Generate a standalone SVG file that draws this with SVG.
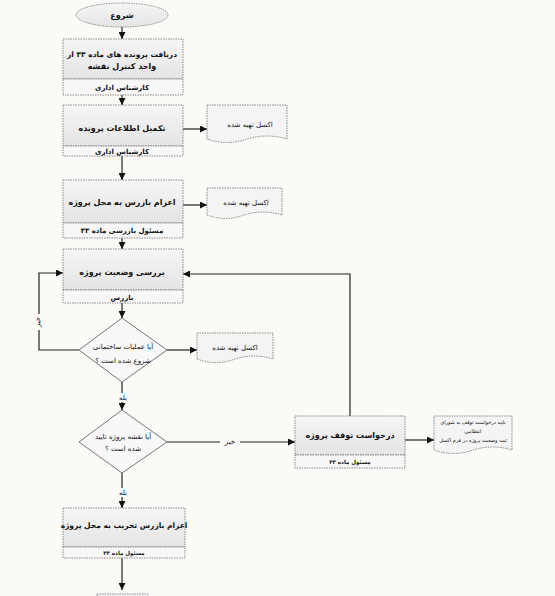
<svg xmlns="http://www.w3.org/2000/svg" width="555" height="596" viewBox="0 0 555 596">
<defs>
<marker id="ah" viewBox="0 0 10 10" refX="10" refY="5" markerWidth="7" markerHeight="7" orient="auto" markerUnits="userSpaceOnUse">
<path d="M0,0 L10,5 L0,10 z" fill="#111"/>
</marker>
<linearGradient id="g" x1="0" y1="0" x2="0" y2="1">
<stop offset="0" stop-color="#f6f6f6"/>
<stop offset="1" stop-color="#e4e4e4"/>
</linearGradient>
</defs>
<style>
.bg{fill:#fbfaf7}
.box{fill:url(#g);stroke:#8a8a8a;stroke-width:1;stroke-dasharray:1.5 1}
.sub{fill:#f7f7f7;stroke:#8a8a8a;stroke-width:1;stroke-dasharray:1.5 1}
.doc{fill:#f4f4f4;stroke:#8a8a8a;stroke-width:1;stroke-dasharray:1.5 1}
.dia{fill:#f8f8f8;stroke:#777;stroke-width:1}
.c{fill:none;stroke:#222;stroke-width:1.2}
text{font-family:"DejaVu Sans","Noto Sans",sans-serif;fill:#111;text-anchor:middle}
.t{font-size:8px;font-weight:bold}
.s{font-size:7px;font-weight:bold}
.q{font-size:7px}
.d{font-size:7px}
.n{font-size:5px}
.m{font-size:5.5px;font-weight:bold}
.l{font-size:7px}
</style>
<rect class="bg" x="0" y="0" width="555" height="596"/>

<g id="connectors">
<path class="c" d="M122,27 V39" marker-end="url(#ah)"/>
<path class="c" d="M122,95 V105" marker-end="url(#ah)"/>
<path class="c" d="M183,129 H207" marker-end="url(#ah)"/>
<path class="c" d="M122,156 V180" marker-end="url(#ah)"/>
<path class="c" d="M183,205 H207" marker-end="url(#ah)"/>
<path class="c" d="M122,238 V249" marker-end="url(#ah)"/>
<path class="c" d="M122,303 V318" marker-end="url(#ah)"/>
<path class="c" d="M79,350 H39 V273 H63" marker-end="url(#ah)"/>
<path class="c" d="M167,350 H197" marker-end="url(#ah)"/>
<path class="c" d="M122,382 V410" marker-end="url(#ah)"/>
<path class="c" d="M167,442 H295" marker-end="url(#ah)"/>
<path class="c" d="M350,416 V274 H183" marker-end="url(#ah)"/>
<path class="c" d="M405,440 H434" marker-end="url(#ah)"/>
<path class="c" d="M122,473 V508" marker-end="url(#ah)"/>
<path class="c" d="M122,558 V590" marker-end="url(#ah)"/>
<rect x="32" y="314" width="12" height="16" fill="#fbfaf7"/>
<text class="l" transform="translate(40,322) rotate(-90)">خیر</text>
<rect x="115" y="393" width="16" height="9" fill="#fbfaf7"/>
<text class="l" x="123" y="400">بله</text>
<rect x="220" y="437" width="20" height="9" fill="#fbfaf7"/>
<text class="l" x="230" y="444">خیر</text>
<rect x="115" y="488" width="16" height="9" fill="#fbfaf7"/>
<text class="l" x="123" y="495">بله</text>
</g>

<g id="start">
<ellipse class="box" cx="122" cy="15" rx="46" ry="12"/>
<text class="t" x="122" y="18">شروع</text>
</g>

<g id="n1">
<rect class="box" x="63" y="39" width="120" height="40"/>
<rect class="sub" x="63" y="79" width="120" height="16"/>
<text class="t" x="122" y="57" style="font-size:7.5px">دریافت پرونده های ماده ۳۳ از</text>
<text class="t" x="122" y="69">واحد کنترل نقشه</text>
<text class="s" x="122" y="90">کارشناس اداری</text>
</g>

<g id="n2">
<rect class="box" x="63" y="105" width="120" height="41"/>
<rect class="sub" x="63" y="146" width="120" height="10"/>
<text class="t" x="122" y="131">تکمیل اطلاعات پرونده</text>
<text class="s" x="122" y="154">کارشناس اداری</text>
</g>

<g id="doc1">
<path class="doc" d="M207,105 H287 V139 Q267,133 247,139 Q227,146 207,139 Z"/>
<text class="d" x="250" y="127">اکسل تهیه شده</text>
</g>

<g id="n3">
<rect class="box" x="63" y="180" width="120" height="43"/>
<rect class="sub" x="63" y="223" width="120" height="15"/>
<text class="t" x="122" y="205">اعزام بازرس به محل پروژه</text>
<text class="s" x="122" y="233">مسئول بازرسی ماده ۳۳</text>
</g>

<g id="doc2">
<path class="doc" d="M207,188 H282 V215 Q263,209 244,215 Q226,222 207,215 Z"/>
<text class="d" x="246" y="205">اکسل تهیه شده</text>
</g>

<g id="n4">
<rect class="box" x="63" y="249" width="120" height="41"/>
<rect class="sub" x="63" y="290" width="120" height="13"/>
<text class="t" x="122" y="275">بررسی وضعیت پروژه</text>
<text class="s" x="122" y="300">بازرس</text>
</g>

<g id="d1">
<path class="dia" d="M122,318 L167,350 L122,382 L79,350 Z"/>
<text class="q" x="123" y="349">آیا عملیات ساختمانی</text>
<text class="q" x="123" y="363">شروع شده است ؟&#x200F;</text>
</g>

<g id="doc3">
<path class="doc" d="M197,333 H273 V359 Q254,353 235,359 Q216,366 197,359 Z"/>
<text class="d" x="235" y="350">اکسل تهیه شده</text>
</g>

<g id="d2">
<path class="dia" d="M122,410 L167,442 L122,473 L79,442 Z"/>
<text class="q" x="123" y="439">آیا نقشه پروژه تایید</text>
<text class="q" x="123" y="451">شده است ؟&#x200F;</text>
</g>

<g id="n5">
<rect class="box" x="295" y="416" width="110" height="39"/>
<rect class="sub" x="295" y="455" width="110" height="13"/>
<text class="t" x="350" y="438">درخواست توقف پروژه</text>
<text class="m" x="350" y="464">مسئول ماده ۳۳</text>
</g>

<g id="doc4">
<path class="doc" d="M434,416 H512 V450 Q493,444 473,450 Q453,457 434,450 Z"/>
<text class="n" x="473" y="424">نامه درخواست توقف به شورای</text>
<text class="n" x="473" y="433">انتظامی</text>
<text class="n" x="473" y="442">ثبت وضعیت پروژه در فرم اکسل</text>
</g>

<g id="n6">
<rect class="box" x="63" y="508" width="122" height="39"/>
<rect class="sub" x="63" y="547" width="122" height="11"/>
<text class="t" x="124" y="528" style="font-size:7.5px">اعزام بازرس تخریب به محل پروژه</text>
<text class="m" x="124" y="555">مسئول ماده ۳۳</text>
</g>

<g id="n7">
<rect class="box" x="97" y="594" width="51" height="10"/>
</g>
</svg>
